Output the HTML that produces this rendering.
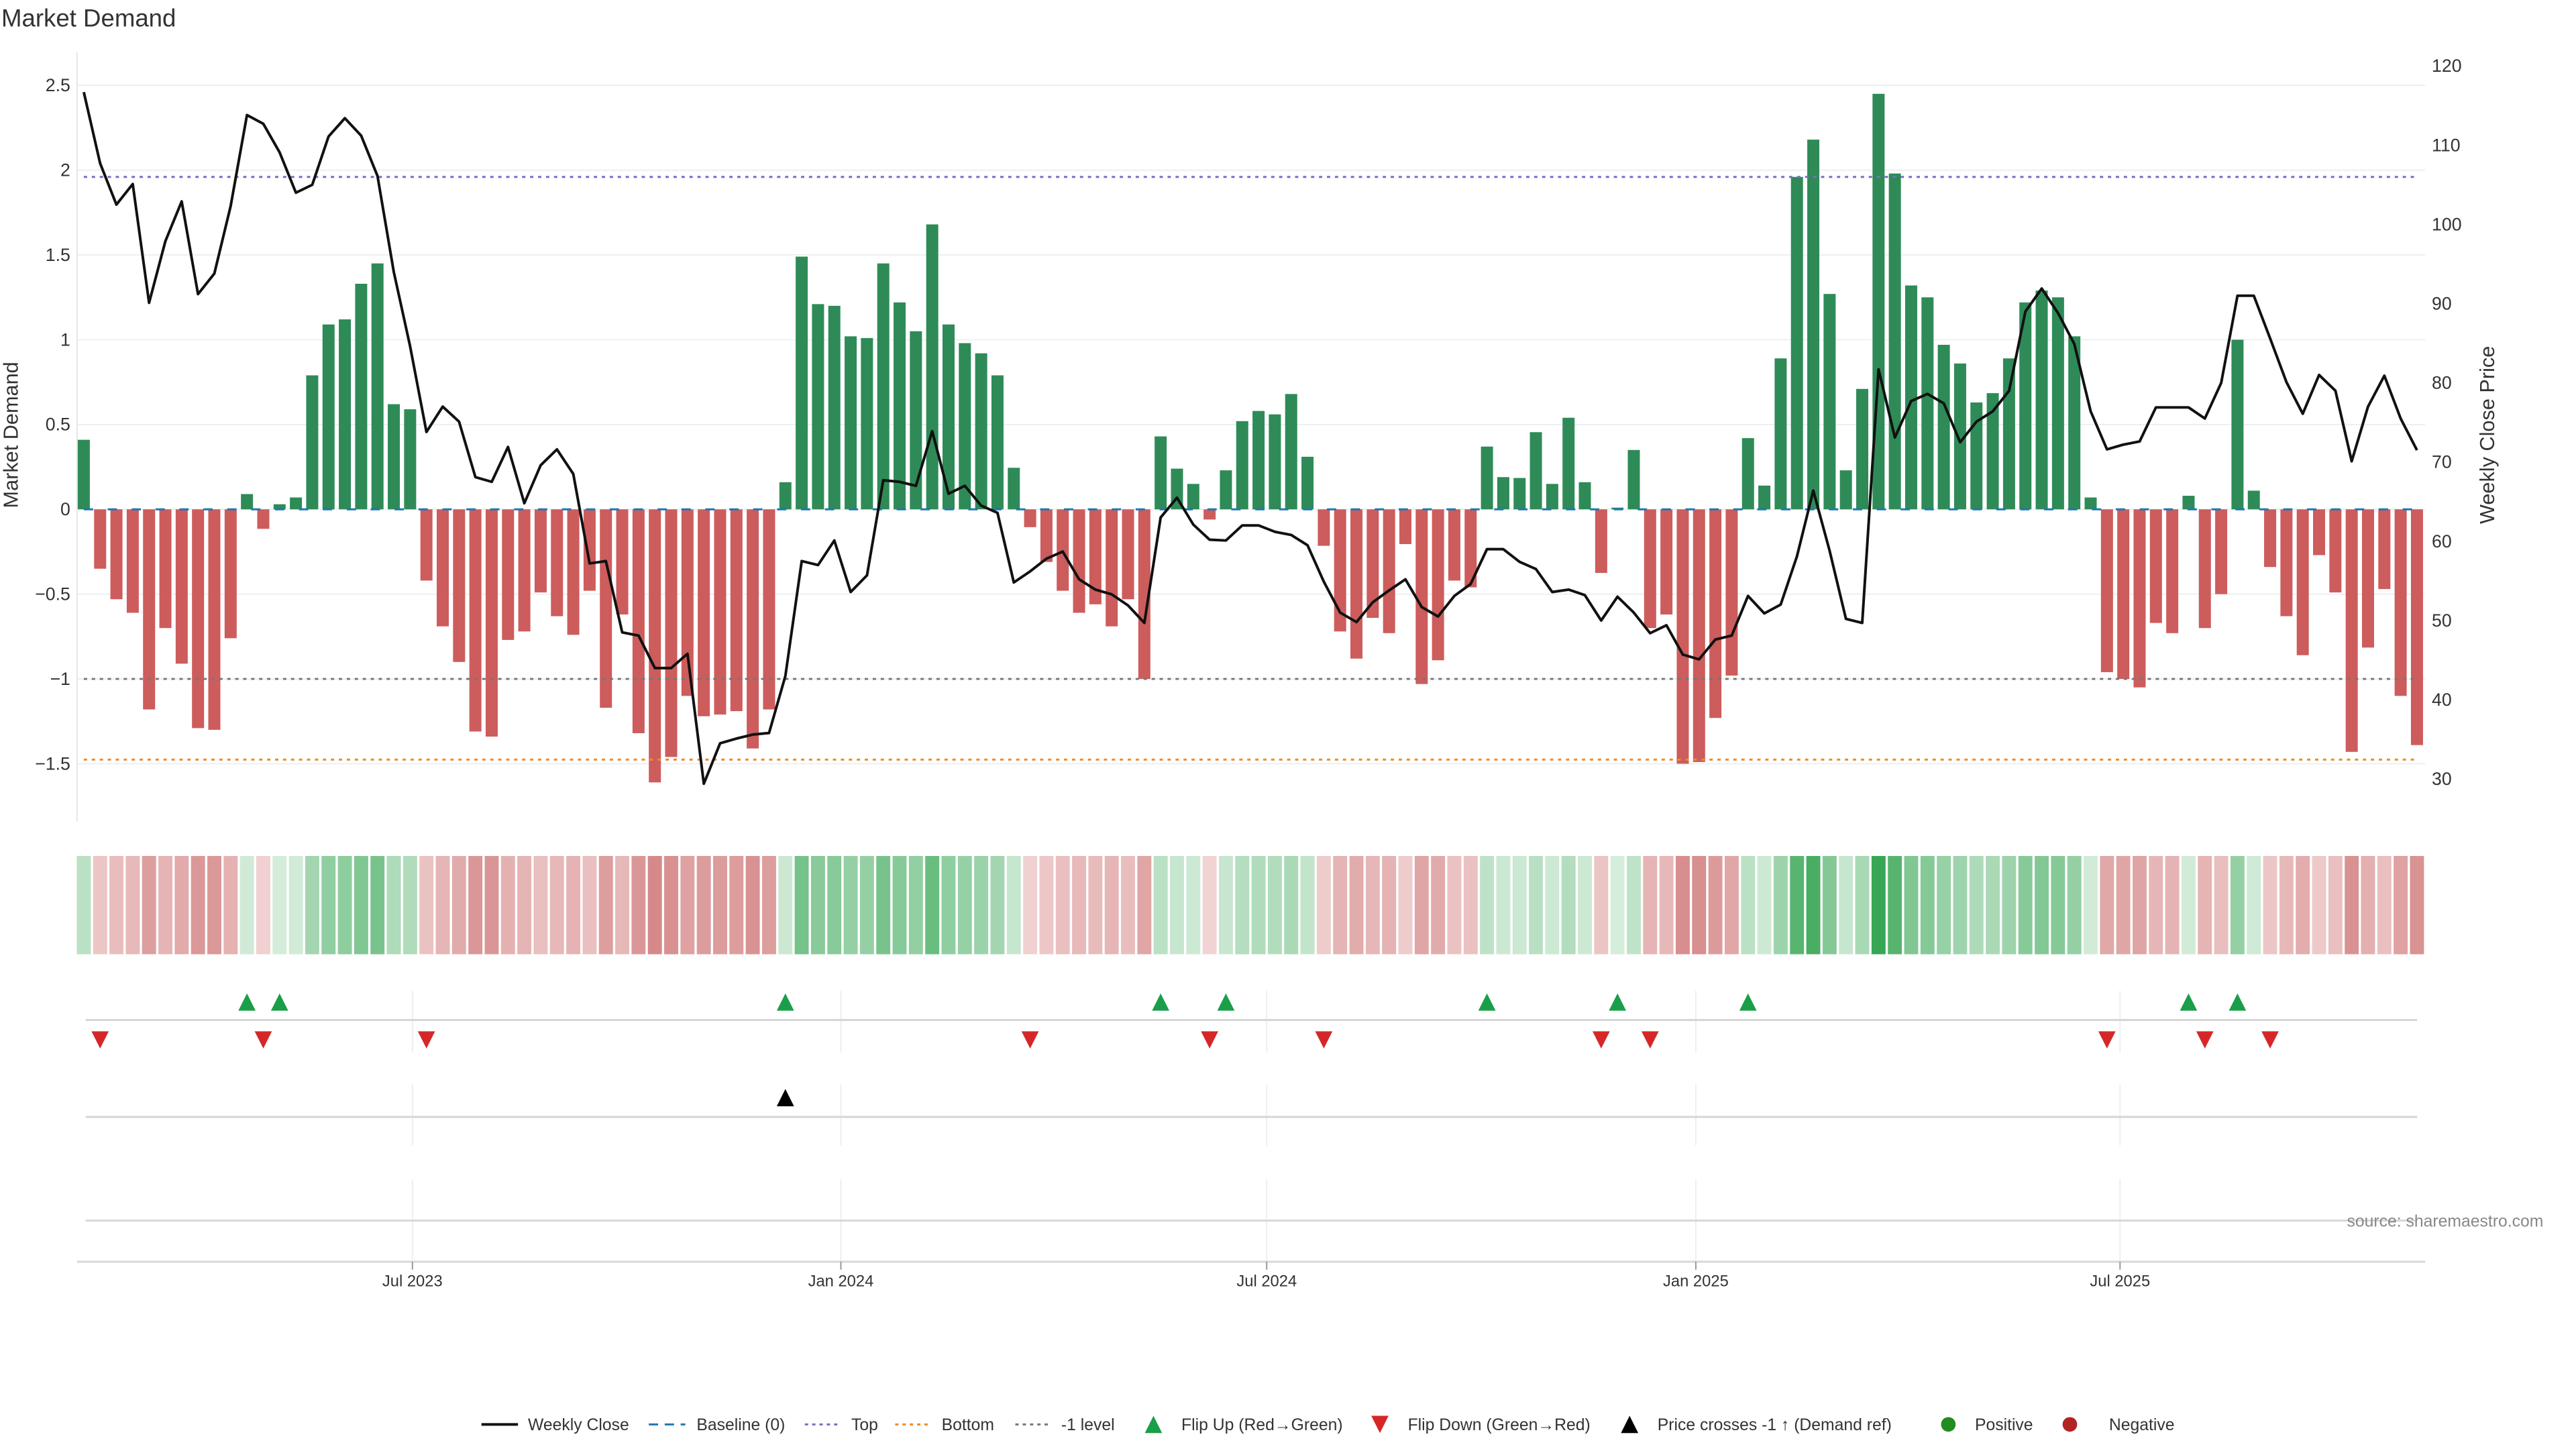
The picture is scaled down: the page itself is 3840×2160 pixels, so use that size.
<!DOCTYPE html>
<html><head><meta charset="utf-8"><title>Market Demand</title>
<style>
html,body{margin:0;padding:0;background:#fff;}
svg{display:block;font-family:"Liberation Sans","DejaVu Sans",sans-serif;}
</style></head>
<body>
<svg id="chart" width="3840" height="2160" viewBox="0 0 3840 2160" xmlns="http://www.w3.org/2000/svg">
<rect x="0" y="0" width="3840" height="2160" fill="#fff"/>
<g transform="scale(0.9899)">
<text x="2" y="40" font-size="37" fill="#333">Market Demand</text>
<g id="g"></g>
</g>
</svg>
<script>
const demand = [0.41,-0.35,-0.53,-0.61,-1.18,-0.70,-0.91,-1.29,-1.30,-0.76,
0.09,-0.115,0.03,0.07,0.79,1.09,1.12,1.33,1.45,0.62,
0.59,-0.42,-0.69,-0.90,-1.31,-1.34,-0.77,-0.72,-0.49,-0.63,
-0.74,-0.48,-1.17,-0.62,-1.32,-1.61,-1.46,-1.10,-1.22,-1.21,
-1.19,-1.41,-1.18,0.16,1.49,1.21,1.20,1.02,1.01,1.45,
1.22,1.05,1.68,1.09,0.98,0.92,0.79,0.245,-0.105,-0.31,
-0.48,-0.61,-0.56,-0.69,-0.53,-1.00,0.43,0.24,0.15,-0.06,
0.23,0.52,0.58,0.56,0.68,0.31,-0.215,-0.72,-0.88,-0.64,
-0.73,-0.205,-1.03,-0.89,-0.42,-0.46,0.37,0.19,0.185,0.455,
0.15,0.54,0.16,-0.375,0.01,0.35,-0.70,-0.62,-1.50,-1.49,
-1.23,-0.98,0.42,0.14,0.89,1.96,2.18,1.27,0.23,0.71,
2.45,1.98,1.32,1.25,0.97,0.86,0.63,0.685,0.89,1.22,
1.29,1.25,1.02,0.07,-0.96,-1.00,-1.05,-0.67,-0.73,0.08,
-0.70,-0.50,1.00,0.11,-0.34,-0.63,-0.86,-0.27,-0.49,-1.43,
-0.815,-0.47,-1.10,-1.39];
const price = [116.7,107.7,102.5,105.1,90.1,97.9,102.9,91.2,93.8,102.3,
113.8,112.7,109.1,104.0,105.0,111.1,113.4,111.2,106.1,94.0,
84.6,73.8,77.0,75.1,68.1,67.5,71.9,64.8,69.6,71.6,
68.5,57.2,57.5,48.5,48.1,44.0,44.0,45.8,29.4,34.5,
35.1,35.6,35.8,43.0,57.5,57.0,60.1,53.6,55.7,67.7,
67.5,67.0,73.9,66.0,67.0,64.5,63.6,54.8,56.2,57.8,
58.7,55.2,53.9,53.3,51.9,49.7,63.0,65.5,62.1,60.2,
60.1,62.0,62.0,61.2,60.8,59.5,54.9,51.0,49.8,52.3,
53.8,55.2,51.7,50.5,53.1,54.6,59.0,59.0,57.4,56.5,
53.6,53.9,53.2,50.0,53.0,51.0,48.4,49.4,45.7,45.1,
47.6,48.1,53.1,50.9,52.0,58.1,66.4,58.8,50.2,49.7,
81.7,73.1,77.7,78.6,77.4,72.5,75.1,76.4,79.0,89.0,
91.9,88.8,84.9,76.4,71.6,72.2,72.6,76.9,76.9,76.9,
75.5,80.0,91.0,91.0,85.6,80.1,76.1,81.0,79.0,70.1,
77.0,80.9,75.5,71.5];
const crossIdx = [43];
const refTop = 1.96, refBottom = -1.476, refMinus1 = -1;
const leftTicks = [2.5,2,1.5,1,0.5,0,-0.5,-1,-1.5];
const leftTickLabels = ["2.5","2","1.5","1","0.5","0","\u22120.5","\u22121","\u22121.5"];
const rightTicks = [120,110,100,90,80,70,60,50,40,30];
const dateTickPos = [20.14,46.4,72.5,98.8,124.8];
const dateTickLabels = ["Jul 2023","Jan 2024","Jul 2024","Jan 2025","Jul 2025"];

const NS="http://www.w3.org/2000/svg";
const G=document.getElementById('g');
function el(tag,attrs,parent){const e=document.createElementNS(NS,tag);for(const k in attrs)e.setAttribute(k,attrs[k]);(parent||G).appendChild(e);return e;}
const X0=126.2, STEP=24.57, PL=116, PR=3652;
function xs(i){return X0+i*STEP;}
function yd(v){return 767-255.4*v;}
function yp(p){return 1173-(p-30)*11.93;}

leftTicks.forEach((v,k)=>{
  const gl=el('line',{x1:PL,x2:PR,y1:yd(v),y2:yd(v),stroke:'#eceff1','stroke-width':2});
  
  
  const t=el('text',{x:106,y:yd(v)+9,'font-size':27,fill:'#333','text-anchor':'end'});
  t.textContent=leftTickLabels[k];
  
  
});
rightTicks.forEach(p=>{
  const t=el('text',{x:3662,y:yp(p)+9,'font-size':27,fill:'#333'});
  t.textContent=String(p);
  
  
});
const ax=el('line',{x1:PL,x2:PL,y1:79,y2:1237,stroke:'#e6e6e6','stroke-width':2});


const yt=el('text',{x:0,y:0,'font-size':31,fill:'#333','text-anchor':'middle',transform:'translate(27,655) rotate(-90)'});
yt.textContent='Market Demand';


const yt2=el('text',{x:0,y:0,'font-size':31,fill:'#333','text-anchor':'middle',transform:'translate(3756,655) rotate(-90)'});
yt2.textContent='Weekly Close Price';



const BW=STEP*0.74;
demand.forEach((v,i)=>{
  const y0=yd(0), y1=yd(v);
  const r=el('rect',{x:xs(i)-BW/2,y:Math.min(y0,y1),width:BW,height:Math.abs(y1-y0),fill:v>=0?'#2e8b57':'#cd5c5c'});
  
  
});
function hline(v,color,dash,name){
  const l=el('line',{x1:X0,x2:xs(demand.length-1),y1:yd(v),y2:yd(v),stroke:color,'stroke-width':3,'stroke-dasharray':dash});
  
  
}
hline(0,'#1f77b4','14 22','baseline-line');
hline(refTop,'#7b6cc9','5 7','top-line');
hline(refBottom,'#ef8a2a','5 7','bottom-line');
hline(refMinus1,'#777','5 7','minus-one-line');
const pts=price.map((p,i)=>xs(i).toFixed(1)+','+yp(p).toFixed(1)).join(' ');
const pl=el('polyline',{points:pts,fill:'none',stroke:'#111','stroke-width':4,'stroke-linejoin':'round'});



function mix(a,b,t){return 'rgb('+a.map((c,k)=>Math.round(c+(b[k]-c)*t)).join(',')+')';}
const CW=STEP*0.86;
demand.forEach((v,i)=>{
  const t=Math.min(Math.abs(v)/2.5,1);
  const c=v>=0?mix([214,237,220],[52,165,82],t):mix([242,214,214],[200,100,100],t*1.05);
  const r=el('rect',{x:xs(i)-CW/2,y:1289,width:CW,height:148,fill:c});
  
  
});

[[1492,1585],[1633,1725],[1776,1900]].forEach(([a,b])=>{
  dateTickPos.forEach(d=>{
    const l=el('line',{x1:xs(d),x2:xs(d),y1:a,y2:b,stroke:'#eceff1','stroke-width':2});
    
    
  });
});
[1536,1682,1838].forEach(y=>{
  const l=el('line',{x1:129,x2:3640,y1:y,y2:y,stroke:'#d6d6d6','stroke-width':3});
  
  
});
const xa=el('line',{x1:116,x2:3652,y1:1900,y2:1900,stroke:'#d6d6d6','stroke-width':3});


dateTickPos.forEach((d,k)=>{
  const tk=el('line',{x1:xs(d),x2:xs(d),y1:1900,y2:1912,stroke:'#999','stroke-width':2});
  
  
  const t=el('text',{x:xs(d),y:1937,'font-size':24,fill:'#333','text-anchor':'middle'});
  t.textContent=dateTickLabels[k];
  
  
});
function tri(x,y,up,color,name){
  const s=13;
  const p=up?`${x-s},${y+s} ${x+s},${y+s} ${x},${y-s}`:`${x-s},${y-s} ${x+s},${y-s} ${x},${y+s}`;
  const e=el('polygon',{points:p,fill:color});
  
  
}
for(let i=1;i<demand.length;i++){
  if(demand[i-1]<0&&demand[i]>=0) tri(xs(i),1509,true,'#1a9e4a','flip-up-marker');
  if(demand[i-1]>=0&&demand[i]<0) tri(xs(i),1566,false,'#d62728','flip-down-marker');
}
crossIdx.forEach(i=>tri(xs(i),1653,true,'#000','price-cross-marker'));

const src=el('text',{x:3830,y:1847,'font-size':25,fill:'#888','text-anchor':'end'});
src.textContent='source: sharemaestro.com';



const LY=2145;
function ltext(x,s,name){const t=el('text',{x:x,y:LY+9,'font-size':25,fill:'#333'});t.textContent=s;}
function lline(x,color,dash,w,name){const l=el('line',{x1:x,x2:x+55,y1:LY,y2:LY,stroke:color,'stroke-width':w,'stroke-dasharray':dash});}
lline(725,'#111','none',4,'legend-weekly-close-swatch'); ltext(795,'Weekly Close','legend-weekly-close');
lline(977,'#1f77b4','14 10',3,'legend-baseline-swatch'); ltext(1049,'Baseline (0)','legend-baseline');
lline(1212,'#7b6cc9','5 6',3,'legend-top-swatch'); ltext(1282,'Top','legend-top');
lline(1348,'#ef8a2a','5 6',3,'legend-bottom-swatch'); ltext(1418,'Bottom','legend-bottom');
lline(1529,'#777','5 6',3,'legend-minus-one-swatch'); ltext(1598,'-1 level','legend-minus-one');
tri(1737,LY,true,'#1a9e4a','legend-flip-up-swatch'); ltext(1779,'Flip Up (Red\u2192Green)','legend-flip-up');
tri(2078,LY,false,'#d62728','legend-flip-down-swatch'); ltext(2120,'Flip Down (Green\u2192Red)','legend-flip-down');
tri(2454,LY,true,'#000','legend-price-cross-swatch'); ltext(2496,'Price crosses -1 \u2191 (Demand ref)','legend-price-cross');
const c1=el('circle',{cx:2934,cy:LY,r:11,fill:'#228b22'});
ltext(2974,'Positive','legend-positive');
const c2=el('circle',{cx:3117,cy:LY,r:11,fill:'#b22222'});
ltext(3176,'Negative','legend-negative');
</script>
</body></html>
